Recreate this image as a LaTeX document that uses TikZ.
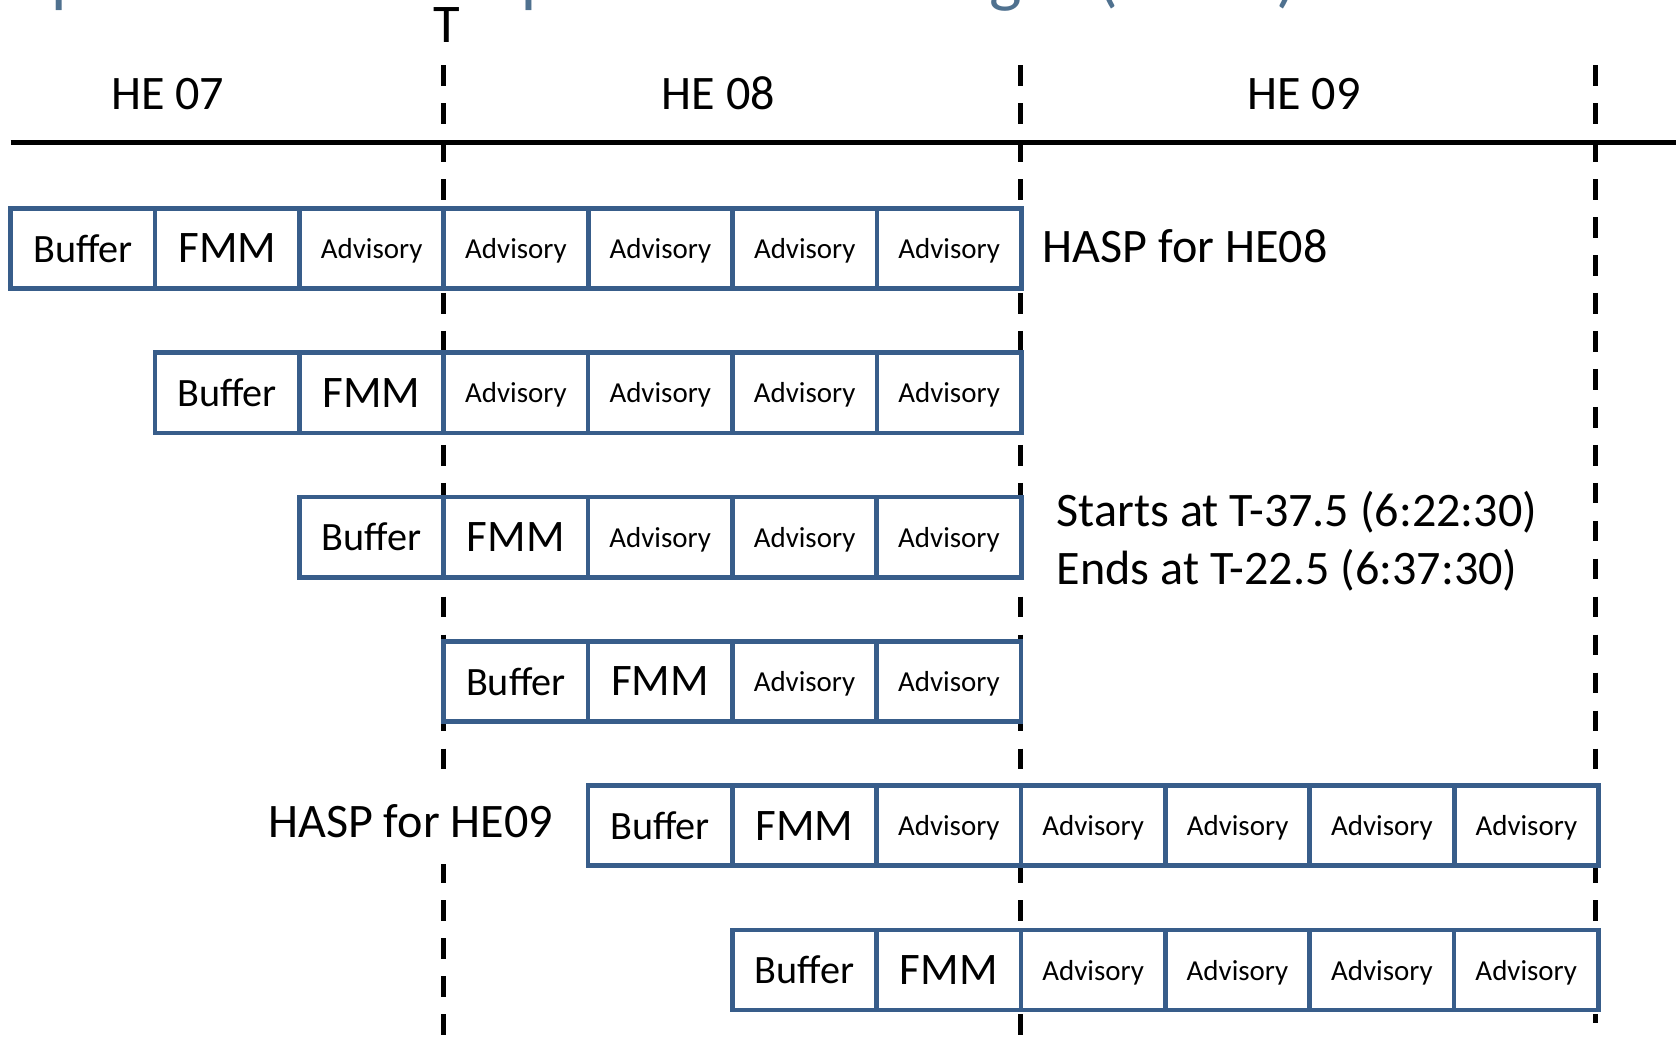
\documentclass[tikz,border=0pt]{standalone}
\usepackage{fontspec}
\setmainfont{Carlito}
\usetikzlibrary{positioning}
\definecolor{haspblue}{RGB}{56,93,138}
\definecolor{titlegray}{RGB}{79,113,143}
\tikzset{
  cell/.style={draw=haspblue, fill=white, line width=1.25pt,
    minimum width=1.35cm, minimum height=0.75cm, inner sep=0pt,
    outer sep=0pt, text depth=0pt, font=\fontsize{7.7}{9}\selectfont},
  bufcell/.style={cell, font=\fontsize{10.7}{13}\selectfont},
  fmmcell/.style={cell, font=\fontsize{12}{14}\selectfont},
  hourline/.style={line width=1.3pt, dash pattern=on 5.5pt off 4.6pt},
  lbl/.style={inner sep=0pt, font=\fontsize{12.8}{15}\selectfont}
}
\begin{document}
\begin{tikzpicture}[x=0.01cm, y=-0.01cm]
  \useasboundingbox (0,0) rectangle (1568,969.3);
  \clip (0,0) rectangle (1568,969.3);
  % cut-off slide title
  \node[lbl, anchor=base west, text=titlegray, font=\fontsize{18.3}{21}\selectfont]
    (title) at (-20,0) {Implementation requires RTUC changes (1 of 3)};
  % hour boundaries
  \node[lbl, anchor=base, font=\fontsize{14.5}{16}\selectfont] (tmark) at (418,40) {T};
  \draw[hourline] (415,61) -- (415,969.3);
  \draw[hourline] (955,61) -- (955,969.3);
  \draw[hourline] (1493,61) -- (1493,957);
  \draw[line width=1.3pt] (10,133) -- (1568,133);
  \node[lbl, anchor=base] (he07) at (157,102) {HE 07};
  \node[lbl, anchor=base] (he08) at (672,102) {HE 08};
  \node[lbl, anchor=base] (he09) at (1220,102) {HE 09};
  % HASP runs
  \foreach \r/\x/\n in {1/10/5,2/145/4,3/280/3,4/415/2,5/550/5,6/685/4}{
    \node[bufcell, anchor=west] (r\r-1) at ({\x},{232.5+135*(\r-1)}) {Buffer};
    \node[fmmcell, right=0pt of r\r-1] (r\r-2) {FMM};
    \foreach \k [evaluate=\k as \p using {int(\k+1)},
                 evaluate=\k as \q using {int(\k+2)}] in {1,...,\n}
      \node[cell, right=0pt of r\r-\p] (r\r-\q) {Advisory};
  }
  \node[lbl, anchor=base west] (hasp08) at (975,246) {HASP for HE08};
  \node[lbl, anchor=base east, fill=white, inner xsep=0.04cm, inner ysep=0.04cm,
    text height=0.57cm, text depth=0.2cm] (hasp09) at (522,784) {HASP for HE09};
  \node[lbl, anchor=base west] (starts) at (988,493) {Starts at T-37.5 (6:22:30)};
  \node[lbl, anchor=base west] (ends) at (988,547) {Ends at T-22.5 (6:37:30)};
\end{tikzpicture}
\end{document}
